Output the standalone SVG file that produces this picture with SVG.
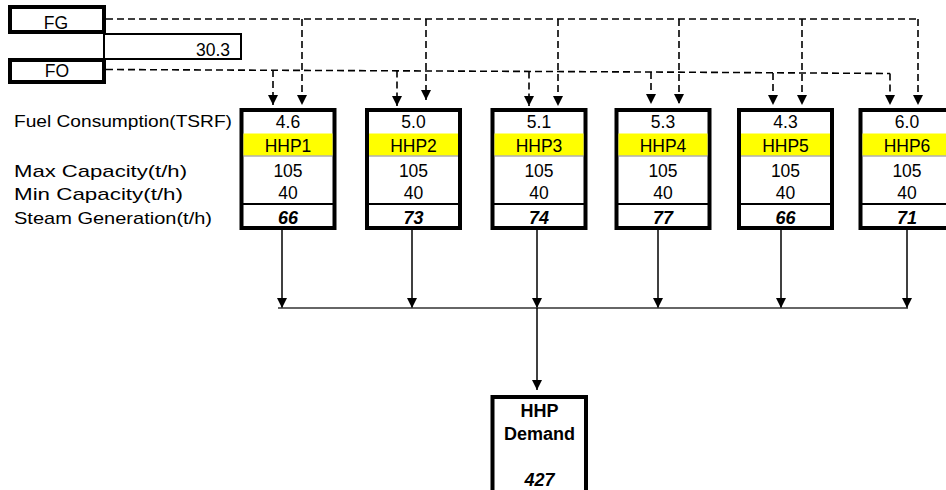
<svg xmlns="http://www.w3.org/2000/svg" width="946" height="490" viewBox="0 0 946 490">
  <defs>
    <style>
      text { font-family: "Liberation Sans", Arial, sans-serif; fill: #000; }
      .lbl { font-size: 17px; }
      .val { font-size: 17.5px; text-anchor: middle; }
      .gen { font-size: 18px; font-weight: bold; font-style: italic; text-anchor: middle; }
      .thick { fill: #fff; stroke: #000; stroke-width: 4; }
      .thin { fill: #fff; stroke: #000; stroke-width: 2; }
      .hl { fill: #ffff00; }
      .sep { stroke: #888; stroke-width: 1; }
      .sep2 { stroke: #000; stroke-width: 2; }
      .dash { fill: none; stroke: #000; stroke-width: 1.6; stroke-dasharray: 7 4; }
      .flow { fill: none; stroke: #000; stroke-width: 1.5; }
      .bus { fill: none; stroke: #333; stroke-width: 1.5; }
    </style>
    <marker id="tri" viewBox="0 0 10 10" refX="10" refY="5" markerWidth="10" markerHeight="11" markerUnits="userSpaceOnUse" orient="auto">
      <path d="M0,0 L10,5 L0,10 Z" fill="#000"/>
    </marker>
  </defs>

  <!-- fuel sources -->
  <g id="fg">
    <rect class="thick" x="10" y="7" width="94" height="25"/>
    <text class="val" x="56" y="29">FG</text>
  </g>
  <g id="fuel-total">
    <rect class="thin" x="104" y="34" width="137" height="25"/>
    <text class="val" x="230" y="56" text-anchor="end" style="text-anchor:end">30.3</text>
  </g>
  <g id="fo">
    <rect class="thick" x="10" y="60" width="94" height="22"/>
    <text class="val" x="57" y="77">FO</text>
  </g>

  <!-- row captions -->
  <g id="captions">
    <text class="lbl" x="14" y="127" textLength="218" lengthAdjust="spacingAndGlyphs">Fuel Consumption(TSRF)</text>
    <text class="lbl" x="14" y="177" textLength="173" lengthAdjust="spacingAndGlyphs">Max Capacity(t/h)</text>
    <text class="lbl" x="14" y="200" textLength="169" lengthAdjust="spacingAndGlyphs">Min Capacity(t/h)</text>
    <text class="lbl" x="14" y="224" textLength="198" lengthAdjust="spacingAndGlyphs">Steam Generation(t/h)</text>
  </g>

  <!-- connectors -->
  <g id="connectors">
    <!-- FG header and drops -->
    <path class="dash" d="M106,19 H918"/>
    <path class="dash" d="M302,19 V105" marker-end="url(#tri)"/>
    <path class="dash" d="M426,19 V100" marker-end="url(#tri)"/>
    <path class="dash" d="M558,19 V106" marker-end="url(#tri)"/>
    <path class="dash" d="M679,19 V104" marker-end="url(#tri)"/>
    <path class="dash" d="M802,19 V105" marker-end="url(#tri)"/>
    <path class="dash" d="M918,19 V105" marker-end="url(#tri)"/>
    <!-- FO header and drops -->
    <path class="dash" d="M106,69.5 L650,72 L890,73.5"/>
    <path class="dash" d="M273,70 V105" marker-end="url(#tri)"/>
    <path class="dash" d="M397,70.5 V106" marker-end="url(#tri)"/>
    <path class="dash" d="M529,71.5 V106" marker-end="url(#tri)"/>
    <path class="dash" d="M651,72 V104" marker-end="url(#tri)"/>
    <path class="dash" d="M773,73 V105" marker-end="url(#tri)"/>
    <path class="dash" d="M890,73.5 V105" marker-end="url(#tri)"/>
    <!-- steam to header -->
    <path class="flow" d="M282,230 V308" marker-end="url(#tri)"/>
    <path class="flow" d="M412,230 V308" marker-end="url(#tri)"/>
    <path class="flow" d="M537,230 V308" marker-end="url(#tri)"/>
    <path class="flow" d="M658,230 V308" marker-end="url(#tri)"/>
    <path class="flow" d="M781,230 V308" marker-end="url(#tri)"/>
    <path class="flow" d="M907,230 V308" marker-end="url(#tri)"/>
    <path class="bus" d="M278,308 H908"/>
    <!-- header to demand -->
    <path class="flow" d="M537,308 V390" marker-end="url(#tri)"/>
  </g>

  <!-- boilers -->
  <g id="hhp1" transform="translate(239.5,0)">
    <rect class="thick" x="2" y="110" width="93" height="118"/>
    <rect class="hl" x="4" y="133.5" width="89" height="22"/>
    <line class="sep" x1="4" y1="156" x2="93" y2="156"/>
    <line class="sep2" x1="3" y1="204" x2="94" y2="204"/>
    <text class="val" x="48.5" y="128">4.6</text>
    <text class="val" x="48.5" y="152">HHP1</text>
    <text class="val" x="48.5" y="177">105</text>
    <text class="val" x="48.5" y="199">40</text>
    <text class="gen" x="48.5" y="224">66</text>
  </g>
  <g id="hhp2" transform="translate(365,0)">
    <rect class="thick" x="2" y="110" width="93" height="118"/>
    <rect class="hl" x="4" y="133.5" width="89" height="22"/>
    <line class="sep" x1="4" y1="156" x2="93" y2="156"/>
    <line class="sep2" x1="3" y1="204" x2="94" y2="204"/>
    <text class="val" x="48.5" y="128">5.0</text>
    <text class="val" x="48.5" y="152">HHP2</text>
    <text class="val" x="48.5" y="177">105</text>
    <text class="val" x="48.5" y="199">40</text>
    <text class="gen" x="48.5" y="224">73</text>
  </g>
  <g id="hhp3" transform="translate(490.5,0)">
    <rect class="thick" x="2" y="110" width="93" height="118"/>
    <rect class="hl" x="4" y="133.5" width="89" height="22"/>
    <line class="sep" x1="4" y1="156" x2="93" y2="156"/>
    <line class="sep2" x1="3" y1="204" x2="94" y2="204"/>
    <text class="val" x="48.5" y="128">5.1</text>
    <text class="val" x="48.5" y="152">HHP3</text>
    <text class="val" x="48.5" y="177">105</text>
    <text class="val" x="48.5" y="199">40</text>
    <text class="gen" x="48.5" y="224">74</text>
  </g>
  <g id="hhp4" transform="translate(614.5,0)">
    <rect class="thick" x="2" y="110" width="93" height="118"/>
    <rect class="hl" x="4" y="133.5" width="89" height="22"/>
    <line class="sep" x1="4" y1="156" x2="93" y2="156"/>
    <line class="sep2" x1="3" y1="204" x2="94" y2="204"/>
    <text class="val" x="48.5" y="128">5.3</text>
    <text class="val" x="48.5" y="152">HHP4</text>
    <text class="val" x="48.5" y="177">105</text>
    <text class="val" x="48.5" y="199">40</text>
    <text class="gen" x="48.5" y="224">77</text>
  </g>
  <g id="hhp5" transform="translate(737,0)">
    <rect class="thick" x="2" y="110" width="93" height="118"/>
    <rect class="hl" x="4" y="133.5" width="89" height="22"/>
    <line class="sep" x1="4" y1="156" x2="93" y2="156"/>
    <line class="sep2" x1="3" y1="204" x2="94" y2="204"/>
    <text class="val" x="48.5" y="128">4.3</text>
    <text class="val" x="48.5" y="152">HHP5</text>
    <text class="val" x="48.5" y="177">105</text>
    <text class="val" x="48.5" y="199">40</text>
    <text class="gen" x="48.5" y="224">66</text>
  </g>
  <g id="hhp6" transform="translate(858.5,0)">
    <rect class="thick" x="2" y="110" width="93" height="118"/>
    <rect class="hl" x="4" y="133.5" width="89" height="22"/>
    <line class="sep" x1="4" y1="156" x2="93" y2="156"/>
    <line class="sep2" x1="3" y1="204" x2="94" y2="204"/>
    <text class="val" x="48.5" y="128">6.0</text>
    <text class="val" x="48.5" y="152">HHP6</text>
    <text class="val" x="48.5" y="177">105</text>
    <text class="val" x="48.5" y="199">40</text>
    <text class="gen" x="48.5" y="224">71</text>
  </g>

  <!-- demand -->
  <g id="hhp-demand">
    <rect class="thick" x="492.5" y="397" width="93.5" height="110"/>
    <text x="539.5" y="417" font-size="18" font-weight="bold" text-anchor="middle">HHP</text>
    <text x="539.5" y="440" font-size="18" font-weight="bold" text-anchor="middle">Demand</text>
    <text x="539.5" y="486" font-size="18" font-weight="bold" font-style="italic" text-anchor="middle">427</text>
  </g>
</svg>
